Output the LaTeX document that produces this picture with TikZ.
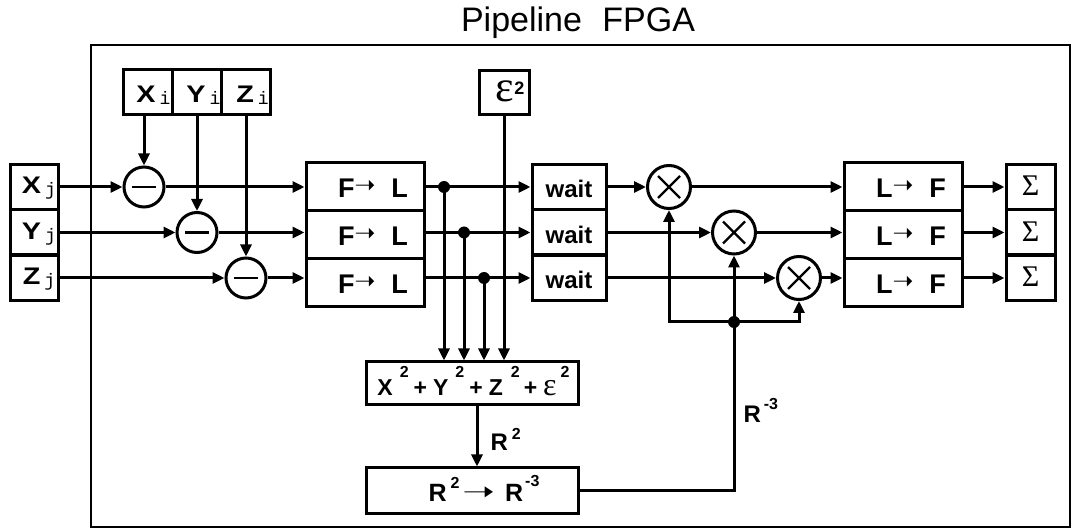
\documentclass[tikz,border=0pt]{standalone}
\usepackage{fontspec}
\usepackage{graphicx}
\setmainfont{Liberation Sans}
\setmonofont{Liberation Mono}
\newfontfamily\timesfont{Liberation Serif}
\newfontfamily\arrfont{DejaVu Sans}
\usetikzlibrary{arrows.meta,shapes,positioning}

\newcommand{\fs}[1]{\fontsize{#1}{#1}\selectfont}
\newcommand{\wide}[1]{\scalebox{1.2}[1]{#1}}
\newcommand{\idx}[1]{\hspace{4pt}\raisebox{-2pt}{\ttfamily\mdseries\fs{18}#1}}
\newcommand{\sq}[2][14pt]{\raisebox{#1}{\fs{16}#2}}
\newcommand{\toarr}{\raisebox{4pt}{\arrfont\mdseries\fs{25}➝}}
\newcommand{\longarr}{\raisebox{1pt}{\scalebox{1.5}[1]{\arrfont\mdseries\fs{26}➝}}}

\begin{document}
\begin{tikzpicture}[x=1pt, y=-1pt,
		wire/.style={line width=3pt},
		arr/.style={wire, -{Triangle[length=12pt,width=11pt]}},
		blk/.style={draw, line width=3pt, inner sep=0pt, text depth=0pt, font=\bfseries\fs{24}},
		jbox/.style={blk, minimum width=48pt, minimum height=45pt, text height=14pt},
		ibox/.style={blk, minimum width=49pt, minimum height=45pt, text height=21pt},
		fbox/.style={blk, minimum width=118pt, minimum height=48pt, text height=22pt, font=\bfseries\fs{27}},
		wbox/.style={blk, minimum width=74pt, minimum height=45pt, text height=22pt},
		sigbox/.style={blk, minimum width=49pt, minimum height=45pt, text height=18pt, font=\timesfont\fs{30}},
		opr/.style={circle, draw, line width=3pt, inner sep=0pt},
		subtr/.style={opr, minimum size=40pt, path picture={\draw[line width=2.6pt] ([xshift=-12pt]path picture bounding box.center) -- ([xshift=12pt]path picture bounding box.center);}},
		mult/.style={opr, minimum size=43pt, path picture={\draw[line width=2.2pt] ([shift={(-11pt,-11pt)}]path picture bounding box.center) -- ([shift={(11pt,11pt)}]path picture bounding box.center) ([shift={(-11pt,11pt)}]path picture bounding box.center) -- ([shift={(11pt,-11pt)}]path picture bounding box.center);}},
		lbl/.style={inner sep=0pt, text height=17pt, text depth=0pt, font=\bfseries\fs{24}},
	]
	\useasboundingbox (0,0) rectangle (1072,529);
	% Titulo y marco {{{
	\node[font=\fs{34}, text height=24pt, text depth=0pt] (title) at (578,19.5) {Pipeline\hspace{0.6em}FPGA};
	\draw[line width=1.8pt] (91,45) rectangle (1070,527); % }}}
	% Entradas {{{
	\node[jbox] (xj) at (34,187) {\hspace{10pt}\wide{X}\idx{j}};
	\node[jbox] (yj) at (34,232.5) {\hspace{10pt}\wide{Y}\idx{j}};
	\node[jbox] (zj) at (34,278) {\hspace{10pt}\wide{Z}\idx{j}};
	\node[ibox] (xi) at (147.5,92.5) {\hspace{12pt}\wide{X}\idx{i}};
	\node[ibox] (yi) at (196.5,92.5) {\hspace{14pt}\wide{Y}\idx{i}};
	\node[ibox] (zi) at (245.5,92.5) {\hspace{14pt}\wide{Z}\idx{i}};
	\node[blk, minimum width=50pt, minimum height=44pt, text height=18pt] (eps) at (504,93)
		{\makebox[50pt][l]{\hspace{16pt}{\timesfont\mdseries\fs{44}ε}\hspace{1pt}\sq[7pt]{\fs{18}2}}};
	% }}}
	% Etapas {{{
	\node[subtr] (m1) at (144,187) {};
	\node[subtr] (m2) at (197,232.5) {};
	\node[subtr] (m3) at (246,278) {};
	\node[fbox] (fl1) at (365,187) {\hspace{16pt}F\toarr\hspace{16pt}L};
	\node[fbox] (fl2) at (365,235) {\hspace{16pt}F\toarr\hspace{16pt}L};
	\node[fbox] (fl3) at (365,283) {\hspace{16pt}F\toarr\hspace{16pt}L};
	\coordinate (d1) at (444,187);
	\coordinate (d2) at (464,232.5);
	\coordinate (d3) at (484,278);
	\node[wbox] (w1) at (569,187) {wait};
	\node[wbox] (w2) at (569,232.5) {wait};
	\node[wbox] (w3) at (569,278) {wait};
	\node[mult] (x1) at (669,187) {};
	\node[mult] (x2) at (734,232.5) {};
	\node[mult] (x3) at (799,278) {};
	\coordinate (d4) at (734,322);
	\node[fbox] (lf1) at (903,187) {\hspace{16pt}L\toarr\hspace{16pt}F};
	\node[fbox] (lf2) at (903,235) {\hspace{16pt}L\toarr\hspace{16pt}F};
	\node[fbox] (lf3) at (903,283) {\hspace{16pt}L\toarr\hspace{16pt}F};
	\node[sigbox] (sg1) at (1030.5,187) {Σ};
	\node[sigbox] (sg2) at (1030.5,232.5) {Σ};
	\node[sigbox] (sg3) at (1030.5,278) {Σ};
	\node[blk, minimum width=212pt, minimum height=43pt, text height=25pt, font=\bfseries\fs{23}] (sum) at (472,383.5)
		{\hspace{3pt}X\hspace{7pt}\sq[18pt]{2}\hspace{5pt}+\hspace{6pt}Y\hspace{7pt}\sq[18pt]{2}\hspace{5pt}+\hspace{6pt}Z\hspace{8pt}\sq[18pt]{2}\hspace{4pt}+\hspace{6pt}{\timesfont\mdseries\fs{32}ε}\hspace{4pt}\sq[18pt]{2}};
	\node[blk, minimum width=212pt, minimum height=45pt, text height=21pt, font=\bfseries\fs{25}] (inv) at (472,490.5)
		{\hspace{24pt}R\hspace{4pt}\sq[13pt]{2}\hspace{3pt}\longarr\hspace{10pt}R\hspace{2pt}\sq[15pt]{-3}};
	% }}}
	% Conexiones {{{
	\draw[arr] (xj) -- (m1);
	\draw[arr] (yj) -- (m2);
	\draw[arr] (zj) -- (m3);
	\draw[arr] (m1 |- xi.south) -- (m1);
	\draw[arr] (m2 |- yi.south) -- (m2);
	\draw[arr] (m3 |- zi.south) -- (m3);
	\draw[arr] (m1) -- (fl1);
	\draw[arr] (m2) -- (m2 -| fl2.west);
	\draw[arr] (m3) -- (m3 -| fl3.west);
	\draw[arr] (fl1) -- (w1);
	\draw[arr] (fl2.east |- w2) -- (w2);
	\draw[arr] (fl3.east |- w3) -- (w3);
	\foreach \d in {d1,d2,d3} {
		\draw[arr] (\d) -- (\d |- sum.north);
		\fill (\d) circle (6pt);
	}
	\draw[arr] (eps) -- (eps |- sum.north);
	\draw[arr] (w1) -- (x1);
	\draw[arr] (w2) -- (x2);
	\draw[arr] (w3) -- (x3);
	\draw[arr] (x1) -- (x1 -| lf1.west);
	\draw[arr] (x2) -- (x2 -| lf2.west);
	\draw[arr] (x3) -- (x3 -| lf3.west);
	\draw[arr] (lf1.east |- sg1) -- (sg1);
	\draw[arr] (lf2.east |- sg2) -- (sg2);
	\draw[arr] (lf3.east |- sg3) -- (sg3);
	\draw[arr] ([xshift=5pt]sum.south) -- node[lbl, right=12pt, yshift=-6pt] {R\hspace{4pt}\sq[12pt]{2}} ([xshift=5pt]inv.north);
	\draw[wire] (inv) -- (inv -| d4) -- node[lbl, right=8pt, yshift=-8pt] {R\hspace{3pt}\sq[13pt]{-3}} (d4);
	\draw[arr] (d4) -| (x1);
	\draw[arr] (d4) -| (x3);
	\draw[arr] (d4) -- (x2);
	\fill (d4) circle (6pt);
	% }}}
\end{tikzpicture}
\end{document}
